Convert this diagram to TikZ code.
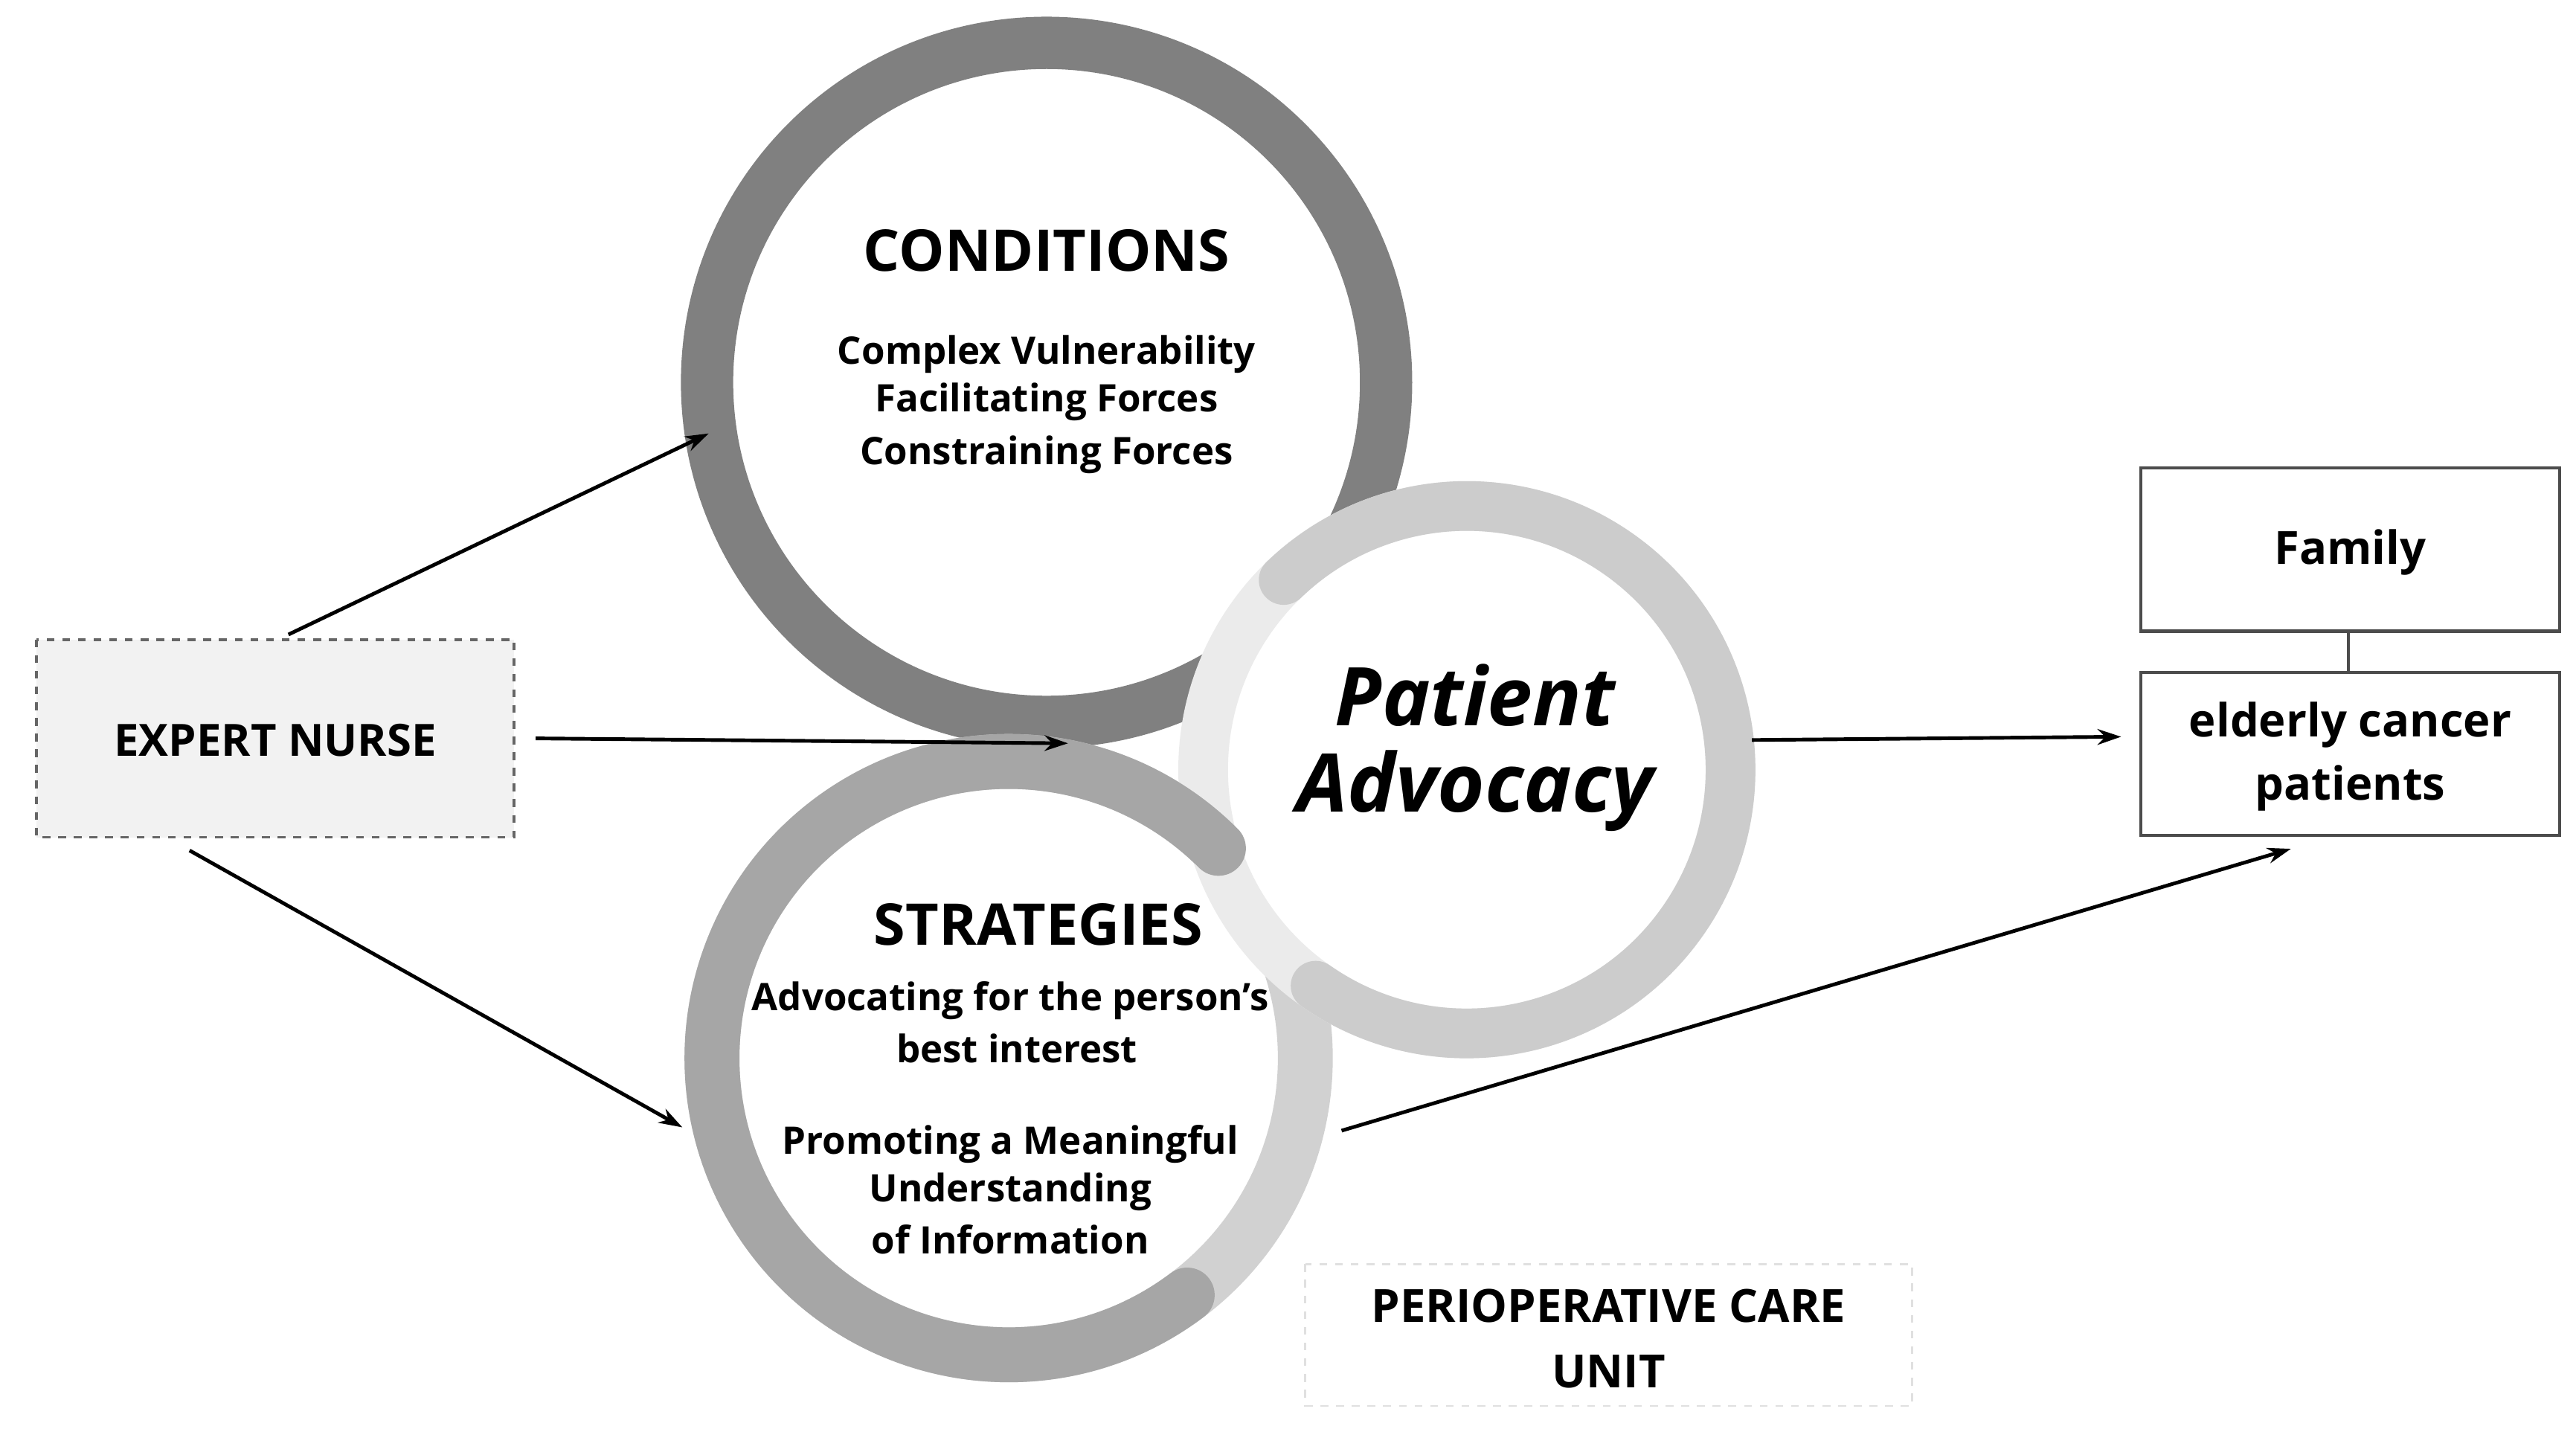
\documentclass[tikz,border=0pt]{standalone}
\usepackage{fontspec}
\setmainfont{Open Sans}
\usetikzlibrary{arrows.meta}
\begin{document}
\begin{tikzpicture}[x=0.022156cm,y=-0.022156cm,
  arr/.style={-{Stealth[length=9pt,width=6pt]},line width=1.4pt},
  box/.style={draw=black!70,line width=1.2pt},
  t/.style={font=\bfseries\fontsize{14.5}{17}\selectfont,align=center,inner sep=0}]
\useasboundingbox (0,0) rectangle (1563,867);
% rings
\draw[line width=20pt,draw=black!50,fill=white] (635,232) circle (206);
\draw[line width=21pt,draw=black!18,fill=white] (612,642) circle (180);
\draw[line width=19pt,draw=black!8,fill=white] (890,467) circle (160);
\draw[line width=21pt,draw=black!35,line cap=round] (612,642) ++(53:180) arc[start angle=53,end angle=315,radius=180];
\draw[line width=19pt,draw=black!20,line cap=round] (890,467) ++(125:160) arc[start angle=125,end angle=-134,radius=160];
% texts
\node[t,font=\bfseries\fontsize{22}{26}\selectfont] (cond) at (635,152) {CONDITIONS};
\node[t] (c1) at (635,215) {Complex Vulnerability};
\node[t] (c2) at (635,244) {Facilitating Forces};
\node[t] (c3) at (635,276) {Constraining Forces};
\node[t,font=\bfseries\itshape\fontsize{31}{36}\selectfont] (pa1) at (895,422) {Patient};
\node[t,font=\bfseries\itshape\fontsize{31}{36}\selectfont] (pa2) at (895,480) {Advocacy};
\node[t,font=\bfseries\fontsize{22}{26}\selectfont] (str) at (630,561) {STRATEGIES};
\node[t] (s1) at (613,607) {Advocating for the person’s};
\node[t] (s2) at (617,636) {best interest};
\node[t] (s3) at (613,694) {Promoting a Meaningful};
\node[t] (s4) at (613,723) {Understanding};
\node[t] (s5) at (613,752) {of Information};
% boxes
\draw[draw=black!60,dashed,line width=1.1pt,fill=black!5] (22,388) rectangle (312,508);
\node[t,font=\bfseries\fontsize{17}{21}\selectfont] (ent) at (167,449) {EXPERT NURSE};
\draw[box] (1299,284) rectangle (1553,383);
\draw[box] (1299,408) rectangle (1553,507);
\node[t,font=\bfseries\fontsize{17.5}{21}\selectfont] (fam) at (1426,335) {Family};
\node[t,font=\bfseries\fontsize{17.5}{22}\selectfont] (eld) at (1426,459) {elderly cancer\\[2pt]patients};
\coordinate (fb) at (1425,383); \coordinate (et) at (1425,408);
\draw[line width=1.2pt,black!70] (fb) -- (et);
\draw[draw=black!12,dashed,line width=0.8pt] (792,767) rectangle (1160,853);
\node[t,font=\bfseries\fontsize{17.5}{22}\selectfont] (peri) at (976,812) {PERIOPERATIVE CARE\\[3pt]UNIT};
% arrows
\coordinate (a1) at (175,385); \coordinate (b1) at (430,263);
\coordinate (a2) at (325,448); \coordinate (b2) at (648,451);
\coordinate (a3) at (115,516); \coordinate (b3) at (414,684);
\coordinate (a4) at (1063,449); \coordinate (b4) at (1287,447);
\coordinate (a5) at (814,686); \coordinate (b5) at (1390,515);
\draw[arr] (a1) -- (b1);
\draw[arr] (a2) -- (b2);
\draw[arr] (a3) -- (b3);
\draw[arr] (a4) -- (b4);
\draw[arr] (a5) -- (b5);
\end{tikzpicture}
\end{document}
